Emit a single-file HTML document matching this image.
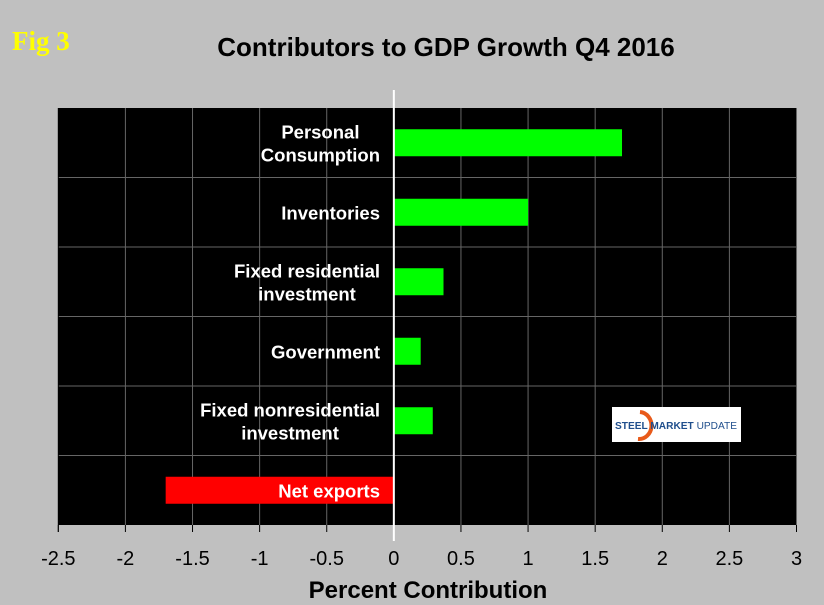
<!DOCTYPE html>
<html><head><meta charset="utf-8"><style>
body{margin:0;background:#c0c0c0;}
svg{display:block;font-family:"Liberation Sans",Arial,sans-serif;}
</style></head><body>
<svg id="chart" width="824" height="605" viewBox="0 0 824 605">
<rect width="824" height="605" fill="#c0c0c0"/>
<text x="12" y="50" font-family="Liberation Serif,serif" font-weight="bold" font-size="27" fill="#ffff00">Fig 3</text>
<text x="446" y="56" text-anchor="middle" font-weight="bold" font-size="26" fill="#000">Contributors to GDP Growth Q4 2016</text>
<g id="plot"></g>
<text x="428" y="598" text-anchor="middle" font-weight="bold" font-size="24" fill="#000">Percent Contribution</text>
</svg>
<script>
const categories=["Personal\nConsumption","Inventories","Fixed residential\ninvestment","Government","Fixed nonresidential\ninvestment","Net exports"];
const values=[1.7,1.0,0.37,0.2,0.29,-1.7];
const xTicks=[-2.5,-2,-1.5,-1,-0.5,0,0.5,1,1.5,2,2.5,3];
const xMin=-2.5,xMax=3,L=58.3,R=796.5,T=108,B=525;
const NS="http://www.w3.org/2000/svg";
const g=document.getElementById('plot');
function x(v){return L+(v-xMin)/(xMax-xMin)*(R-L);}
const rowH=(B-T)/categories.length;
function y(i){return T+i*rowH;}
function mk(tag,attrs,parent){const e=document.createElementNS(NS,tag);for(const k in attrs)e.setAttribute(k,attrs[k]);(parent||g).appendChild(e);return e;}
let bg=mk('rect',{x:L,y:T,width:R-L,height:B-T,fill:'#000'});


xTicks.forEach(t=>{
  if(t!==xMin&&t!==0){let gl=mk('line',{x1:x(t),x2:x(t),y1:T,y2:B,stroke:'#666','stroke-width':1});
  
  }
  let tk=mk('line',{x1:x(t),x2:x(t),y1:B,y2:B+7,stroke:'#000','stroke-width':1});
  
  
  let tl=mk('text',{x:x(t),y:B+40,'text-anchor':'middle','font-size':20,fill:'#000'});
  tl.textContent=String(t);
  
  
});
for(let i=1;i<categories.length;i++){
  let hl=mk('line',{x1:L,x2:R,y1:y(i),y2:y(i),stroke:'#666','stroke-width':1});
  
  
}
let ax=mk('line',{x1:L,x2:L,y1:T,y2:B+7,stroke:'#000','stroke-width':1});


values.forEach((v,i)=>{
  const bh=27,cy=y(i)+rowH/2;
  const x0=x(Math.min(0,v)),x1=x(Math.max(0,v));
  let b=mk('rect',{x:x0,y:cy-bh/2,width:x1-x0,height:bh,fill:v>=0?'#00ff00':'#ff0000'});
  
  
  const lines=categories[i].split('\n');
  let t=mk('text',{'text-anchor':'middle','font-size':18.5,'font-weight':'bold',fill:'#fff'});
  
  
  const spans=lines.map((ln,j)=>{let s=mk('tspan',{x:0,y:cy+7+(j-(lines.length-1)/2)*23},t);s.textContent=ln;return s;});
  const w=Math.max(...spans.map(s=>s.getComputedTextLength()));
  const cx=380-w/2;
  spans.forEach(s=>s.setAttribute('x',cx));
});
let z=mk('line',{x1:x(0),x2:x(0),y1:90,y2:541,stroke:'#fff','stroke-width':2});


let lg=mk('g',{});


mk('rect',{x:612,y:407,width:129,height:35,fill:'#fff'},lg);
mk('path',{d:'M640 412 A12 13 0 1 1 638 439',fill:'none',stroke:'#e85a1a','stroke-width':4},lg);
let lt=mk('text',{x:615,y:429,'font-size':10,'font-weight':'bold',fill:'#1f4e8c',textLength:122,lengthAdjust:'spacingAndGlyphs'},lg);
lt.textContent='STEEL MARKET ';
let lt2=mk('tspan',{'font-weight':'normal'},lt);lt2.textContent='UPDATE';
</script>
</body></html>
